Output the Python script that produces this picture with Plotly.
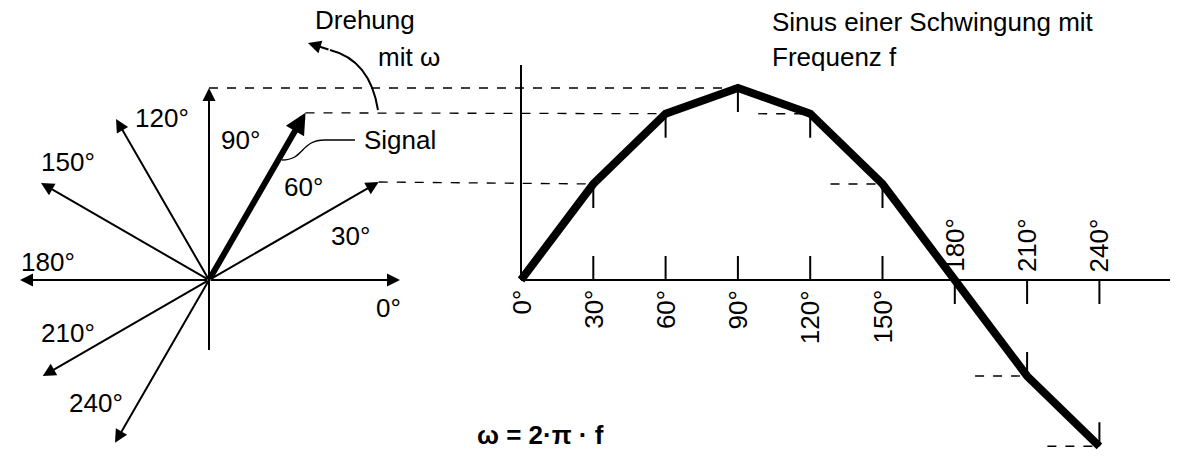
import numpy as np
import plotly.graph_objects as go

phasor_angles = [0, 30, 60, 90, 120, 150, 180, 210, 240]
phasor_radius = [191, 196, 193, 192, 186, 194, 189, 192, 188]
phasor_labels = ["0°", "30°", "60°", "90°", "120°", "150°", "180°", "210°", "240°"]
label_pos = [(388, 308), (350, 236), (303, 187), (240, 140), (162, 118), (68, 162), (48, 262), (68, 333), (96, 403)]
sine_angles = [0, 30, 60, 90, 120, 150, 180, 210, 240]
sine_values = [0.0, 0.5, 0.866, 1.0, 0.866, 0.5, 0.0, -0.5, -0.866]

CX, CY = 209, 280
SX0, SDX, AMP = 521, 72.3, 192
FONT = "Liberation Sans, Arial, sans-serif"
FS = 26

fig = go.Figure()
shapes, ann = [], []

def line(x0, y0, x1, y1, w=2, dash="solid", color="black"):
    shapes.append(dict(type="line", x0=x0, y0=y0, x1=x1, y1=y1, xref="x", yref="y",
                       line=dict(color=color, width=w, dash=dash)))

def arrow(x0, y0, x1, y1, w=2, size=1.0):
    ann.append(dict(x=x1, y=y1, ax=x0, ay=y0, xref="x", yref="y", axref="x", ayref="y",
                    text="", showarrow=True, arrowhead=2, arrowsize=size, arrowwidth=w, arrowcolor="black"))

def text(x, y, s, size=FS, angle=0, xa="center", ya="middle", bold=False):
    ann.append(dict(x=x, y=y, xref="x", yref="y", text=("<b>%s</b>" % s if bold else s), showarrow=False,
                    font=dict(family=FONT, size=size, color="black"), textangle=angle, xanchor=xa, yanchor=ya))

line(CX, 350, CX, 100)
for a, r, lab, (lx, ly) in zip(phasor_angles, phasor_radius, phasor_labels, label_pos):
    t = np.radians(a)
    x1, y1 = CX + r * np.cos(t), CY - r * np.sin(t)
    if a == 60:
        arrow(CX, CY, x1, y1, w=6, size=0.7)
    else:
        arrow(CX, CY, x1, y1, w=2, size=1.3)
    text(lx, ly, lab)

line(SX0, 65, SX0, 280)
line(SX0, 280, 1170, 280)

sx = [SX0 + SDX * a / 30 for a in sine_angles]
sy = [280 - AMP * v for v in sine_values]
fig.add_trace(go.Scatter(x=sx, y=sy, mode="lines", line=dict(color="black", width=8), hoverinfo="skip"))

for a, x, y, v in zip(sine_angles, sx, sy, sine_values):
    lab = "%d°" % a
    if v > 0.01 or a == 0:
        if a > 0:
            line(x, y, x, y + 24)
            line(x, 256, x, 280)
        text(x, 288, lab, angle=-90, ya="top")
    else:
        line(x, 280, x, 304)
        if a > 180:
            line(x, y, x, y - 24)
        text(x, 274, lab, angle=-90, ya="bottom")

for a, r in zip(phasor_angles, phasor_radius):
    if a in (30, 60, 90):
        t = np.radians(a)
        i = sine_angles.index(a)
        line(CX + r * np.cos(t), CY - r * np.sin(t), sx[i], sy[i], w=1.3, dash="dash")
for a in (120, 150, 210, 240):
    i = sine_angles.index(a)
    line(sx[i] - 52, sy[i], sx[i], sy[i], w=1.3, dash="dash")

shapes.append(dict(type="path", path="M 378,110 Q 370,60 330,50", xref="x", yref="y",
                   line=dict(color="black", width=2)))
arrow(330, 50, 308, 43, w=2, size=1.3)
shapes.append(dict(type="path", path="M 282,160 C 305,160 300,140 325,140 L 355,140", xref="x", yref="y",
                   line=dict(color="black", width=1.4)))

text(313, 20, "Drehung", xa="left")
text(376, 57, "mit ω", xa="left")
text(362, 140, "Signal", xa="left")
text(770, 22, "Sinus einer Schwingung mit", xa="left")
text(770, 57, "Frequenz f", xa="left")
text(540, 435, "ω = 2·π · f", xa="center", bold=True)

# the page body has an 8px margin; shrink the figure and shift the ranges so page pixels match
fig.update_layout(width=1162, height=448, margin=dict(l=0, r=0, t=0, b=0),
                  plot_bgcolor="white", paper_bgcolor="white", showlegend=False,
                  shapes=shapes, annotations=ann,
                  xaxis=dict(range=[8, 1170], visible=False, fixedrange=True),
                  yaxis=dict(range=[456, 8], visible=False, fixedrange=True))
fig.write_html("out.html")
